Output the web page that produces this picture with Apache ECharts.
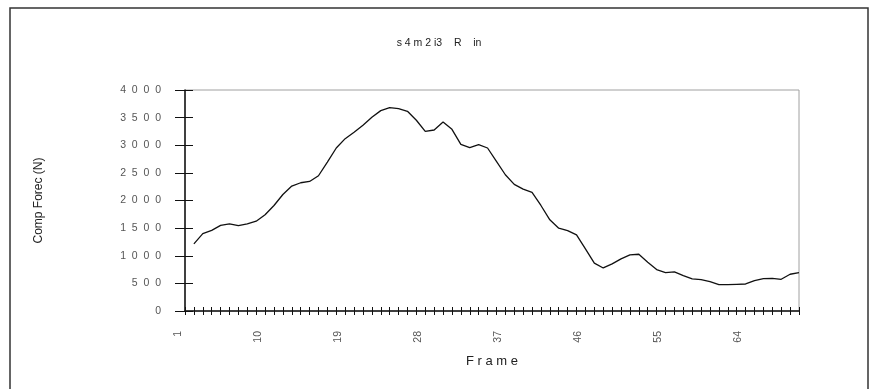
<!DOCTYPE html>
<html>
<head>
<meta charset="utf-8">
<script src="https://cdn.jsdelivr.net/npm/echarts@6/dist/echarts.min.js"></script>
<style>
  html, body { margin: 0; padding: 0; background: #fff; }
  #chart { width: 872px; height: 389px; }
</style>
</head>
<body>
<div id="chart"></div>
<script>
// Frame numbers 1..70
const frames = [];
for (let i = 1; i <= 70; i++) frames.push(String(i));

// Compression force per frame (N); frame 1 has no reading
const compForce = [
  null, 1215, 1400, 1460, 1550, 1577, 1547, 1577, 1626, 1741,
  1910, 2109, 2261, 2321, 2345, 2448, 2696, 2950, 3119, 3234,
  3361, 3506, 3627, 3680, 3663, 3615, 3452, 3252, 3276, 3421,
  3288, 3016, 2956, 3010, 2950, 2708, 2466, 2291, 2206, 2146,
  1910, 1650, 1499, 1456, 1378, 1124, 866, 779, 852, 943,
  1015, 1027, 882, 749, 695, 707, 640, 580, 568, 531,
  477, 477, 483, 489, 550, 586, 592, 574, 665, 695
];

const yTicks = [0, 500, 1000, 1500, 2000, 2500, 3000, 3500, 4000];

const chartTitle = 's 4 m 2 i3    R    in';
const yName = 'Comp Forec (N)';
const xName = 'F r a m e';

const spaced = v => String(v).split('').join('  ');

const chart = echarts.init(document.getElementById('chart'));
const font = 'Liberation Sans, Arial, sans-serif';

chart.setOption({
  animation: false,
  backgroundColor: '#fff',
  title: {
    text: chartTitle,
    left: 434, top: 33, textAlign: 'center',
    textStyle: { fontFamily: font, fontSize: 10.5, fontWeight: 'normal', color: '#222' }
  },
  grid: {
    left: 185, right: 73, top: 90, bottom: 78,
    show: true, borderColor: '#a0a0a0', borderWidth: 1, backgroundColor: '#fff'
  },
  xAxis: [{
    type: 'category',
    data: frames,
    boundaryGap: false,
    name: xName,
    nameLocation: 'middle',
    nameGap: 44,
    nameTextStyle: { fontFamily: font, fontSize: 13, color: '#222' },
    axisLine: { lineStyle: { color: '#111', width: 1.5 } },
    axisTick: { show: true, interval: 0, length: 4, lineStyle: { color: '#111' } },
    axisLabel: {
      interval: 8, rotate: 90, margin: 20,
      verticalAlign: 'bottom', lineHeight: 14,
      fontFamily: font, fontSize: 10.5, color: '#555'
    },
    splitLine: { show: false }
  }, {
    type: 'category',
    data: frames,
    boundaryGap: false,
    position: 'bottom',
    axisLine: { show: false },
    axisTick: { show: true, inside: true, interval: 0, length: 4, lineStyle: { color: '#111' } },
    axisLabel: { show: false },
    splitLine: { show: false }
  }],
  yAxis: [{
    type: 'value',
    min: 0, max: 4000, interval: 500,
    name: yName,
    nameLocation: 'middle',
    nameGap: 140,
    nameRotate: 90,
    nameTextStyle: { fontFamily: font, fontSize: 12, color: '#222' },
    axisLine: { show: true, lineStyle: { color: '#111', width: 1.5 } },
    axisTick: { show: true, length: 10, lineStyle: { color: '#111' } },
    axisLabel: {
      margin: 24, fontFamily: font, fontSize: 10.5, color: '#555',
      formatter: v => yTicks.includes(v) ? spaced(v) : ''
    },
    splitLine: { show: false }
  }, {
    type: 'value',
    min: 0, max: 4000, interval: 500,
    position: 'left',
    axisLine: { show: false },
    axisTick: { show: true, inside: true, length: 8, lineStyle: { color: '#111' } },
    axisLabel: { show: false },
    splitLine: { show: false }
  }],
  series: [{
    type: 'line',
    data: compForce,
    showSymbol: false,
    connectNulls: false,
    lineStyle: { color: '#111', width: 1.3 },
    emphasis: { disabled: true }
  }],
  graphic: [{
    type: 'rect',
    shape: { x: 10, y: 8, width: 858, height: 400 },
    style: { fill: 'none', stroke: '#333', lineWidth: 1.5 },
    silent: true
  }]
});
</script>
</body>
</html>
